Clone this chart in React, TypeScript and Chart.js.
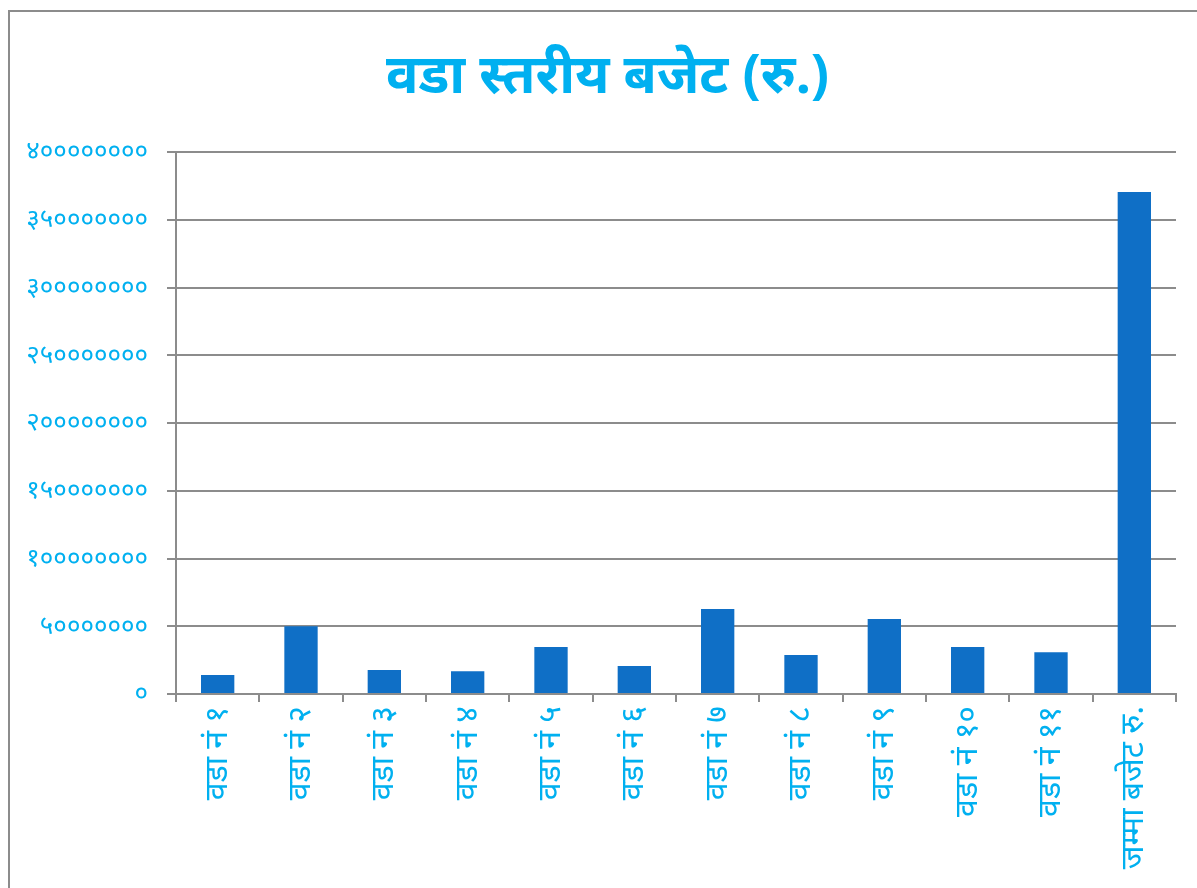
import React, { useEffect, useRef } from "react";
import { Chart, registerables } from "chart.js";

Chart.register(...registerables);

const categories = [
  "वडा नं १",
  "वडा नं २",
  "वडा नं ३",
  "वडा नं ४",
  "वडा नं ५",
  "वडा नं ६",
  "वडा नं ७",
  "वडा नं ८",
  "वडा नं ९",
  "वडा नं १०",
  "वडा नं ११",
  "जम्मा बजेट रु.",
];

const budget = [
  14000000, 50000000, 17700000, 16700000, 34700000, 20700000, 62700000,
  28800000, 55400000, 34700000, 30800000, 370500000,
];

const yTickValues = [0, 50000000, 100000000, 150000000, 200000000, 250000000, 300000000, 350000000, 400000000];

const titleText = "वडा स्तरीय बजेट (रु.)";

const devDigits = ["०", "१", "२", "३", "४", "५", "६", "७", "८", "९"];
const toDev = (n: number) => String(n).replace(/[0-9]/g, (d) => devDigits[+d]);

const FONT = "'Noto Sans', 'DejaVu Sans', sans-serif";
const CYAN = "#00B0F0";
const GRID = "#8c8c8c";

const titlePlugin = {
  id: "customTitle",
  afterDraw(chart: any) {
    const ctx = chart.ctx;
    ctx.save();
    ctx.font = `bold 54px ${FONT}`;
    ctx.fillStyle = CYAN;
    ctx.textAlign = "center";
    ctx.textBaseline = "middle";
    ctx.fillText(titleText, chart.width / 2 + 9, 78);
    ctx.restore();
  },
};

export default function App() {
  const ref = useRef<HTMLCanvasElement | null>(null);

  useEffect(() => {
    if (!ref.current) return;
    const chart = new Chart(ref.current, {
      type: "bar",
      data: {
        labels: categories,
        datasets: [
          {
            data: budget,
            backgroundColor: "#0F6FC6",
            borderWidth: 0,
            barPercentage: 0.4,
            categoryPercentage: 1,
          },
        ],
      },
      plugins: [titlePlugin],
      options: {
        responsive: false,
        animation: false,
        layout: { padding: { left: 0, right: 21, top: 152, bottom: 0 } },
        plugins: {
          legend: { display: false },
          tooltip: { enabled: false },
          title: { display: false },
        },
        scales: {
          x: {
            offset: true,
            grid: {
              display: true,
              offset: true,
              drawOnChartArea: false,
              drawTicks: true,
              tickLength: 8,
              color: GRID,
              lineWidth: 2,
            },
            border: { display: true, color: GRID, width: 2 },
            ticks: {
              color: CYAN,
              font: { family: FONT, size: 32 },
              minRotation: 90,
              maxRotation: 90,
              padding: 4,
              autoSkip: false,
            },
            afterFit: (s: any) => {
              s.height = 194;
            },
          },
          y: {
            min: 0,
            max: 400000000,
            afterBuildTicks: (s: any) => {
              s.ticks = yTickValues.map((v) => ({ value: v }));
            },
            grid: {
              color: GRID,
              lineWidth: 2,
              drawTicks: true,
              tickLength: 9,
            },
            border: { display: true, color: GRID, width: 2 },
            ticks: {
              color: CYAN,
              font: { family: FONT, size: 26 },
              padding: 19,
              callback: (v: any) => toDev(Number(v)),
            },
            afterFit: (s: any) => {
              s.width = 176;
            },
          },
        },
      },
    });
    return () => chart.destroy();
  }, []);

  return (
    <>
      <div
        style={{
          position: "fixed",
          left: 8,
          top: 10,
          width: 1400,
          height: 1000,
          border: "2px solid #8c8c8c",
          boxSizing: "border-box",
        }}
      />
      <canvas
        ref={ref}
        width={1197}
        height={888}
        style={{ position: "fixed", left: 0, top: 0, width: 1197, height: 888 }}
      />
    </>
  );
}
